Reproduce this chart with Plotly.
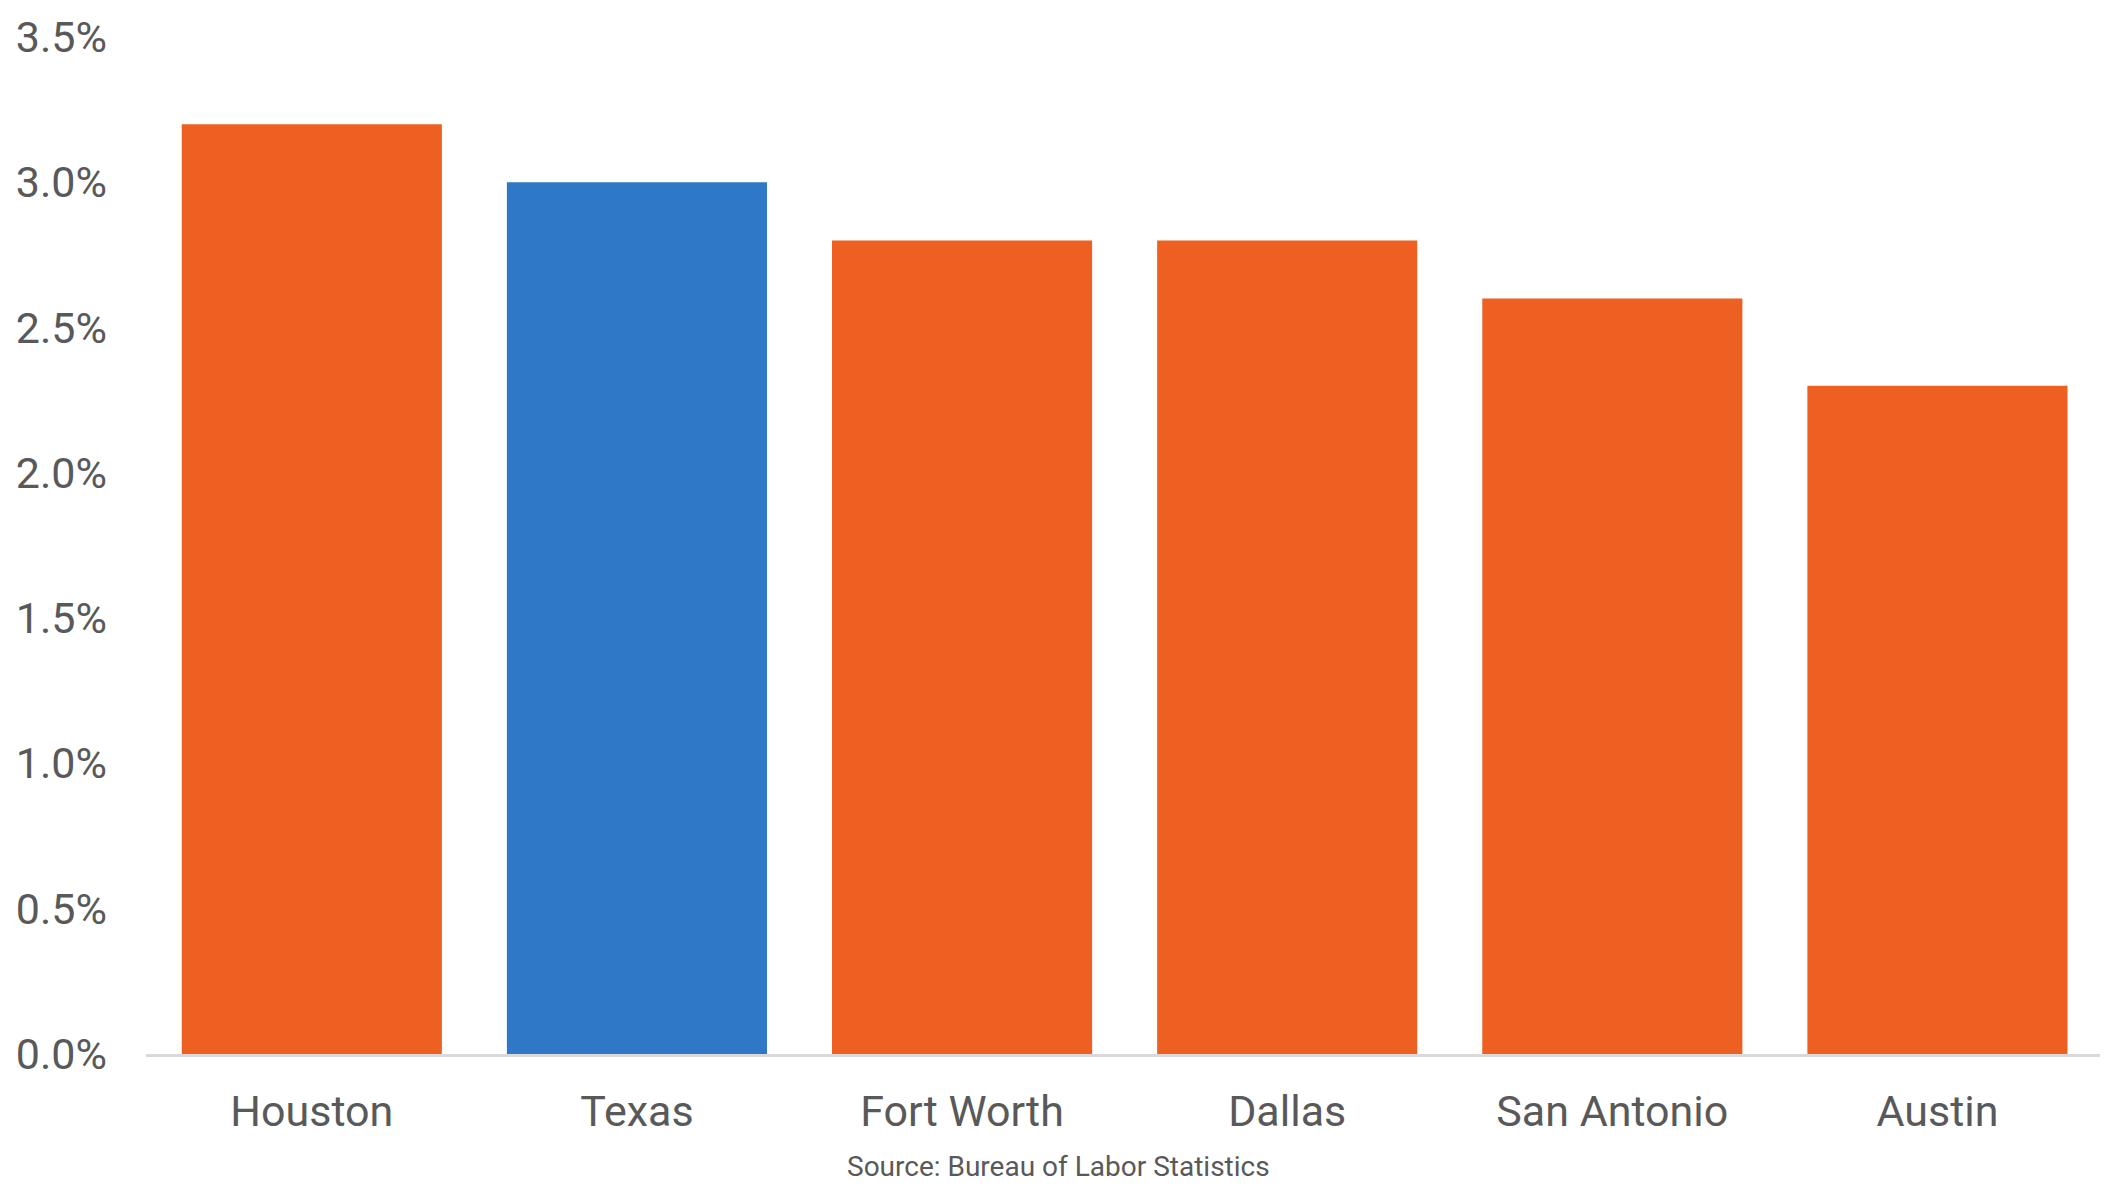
import plotly.graph_objects as go

categories = ["Houston", "Texas", "Fort Worth", "Dallas", "San Antonio", "Austin"]
values = [3.2, 3.0, 2.8, 2.8, 2.6, 2.3]
colors = ["#EE5F22", "#2F78C8", "#EE5F22", "#EE5F22", "#EE5F22", "#EE5F22"]
y_ticks = [0, 0.5, 1.0, 1.5, 2.0, 2.5, 3.0, 3.5]
y_tick_labels = [f"{v:.1f}%" for v in y_ticks]
source_text = "Source: Bureau of Labor Statistics"

FONT = "Roboto"
GREY = "#595959"

fig = go.Figure(go.Bar(x=categories, y=values, marker=dict(color=colors, line=dict(width=0)), width=0.8))

fig.update_layout(
    width=2112, height=1188,
    margin=dict(l=146, r=12, t=37, b=134),
    paper_bgcolor="white", plot_bgcolor="white",
    showlegend=False,
    xaxis=dict(
        range=[-0.51, 5.5],
        showline=True, linecolor="#D9D9D9", linewidth=3,
        showgrid=False, ticks="",
        tickfont=dict(family=FONT, size=43, color=GREY),
        ticklabelstandoff=17,
    ),
    yaxis=dict(
        range=[0, 3.5],
        tickvals=y_ticks, ticktext=y_tick_labels,
        showgrid=False, zeroline=False, showline=False, ticks="",
        tickfont=dict(family=FONT, size=43, color=GREY),
        ticklabelstandoff=38,
    ),
    annotations=[dict(
        text=source_text, xref="paper", yref="paper",
        x=0.467, y=-0.111, xanchor="center", yanchor="middle",
        showarrow=False, font=dict(family=FONT, size=28, color=GREY),
    )],
)

fig.write_html("out.html")
